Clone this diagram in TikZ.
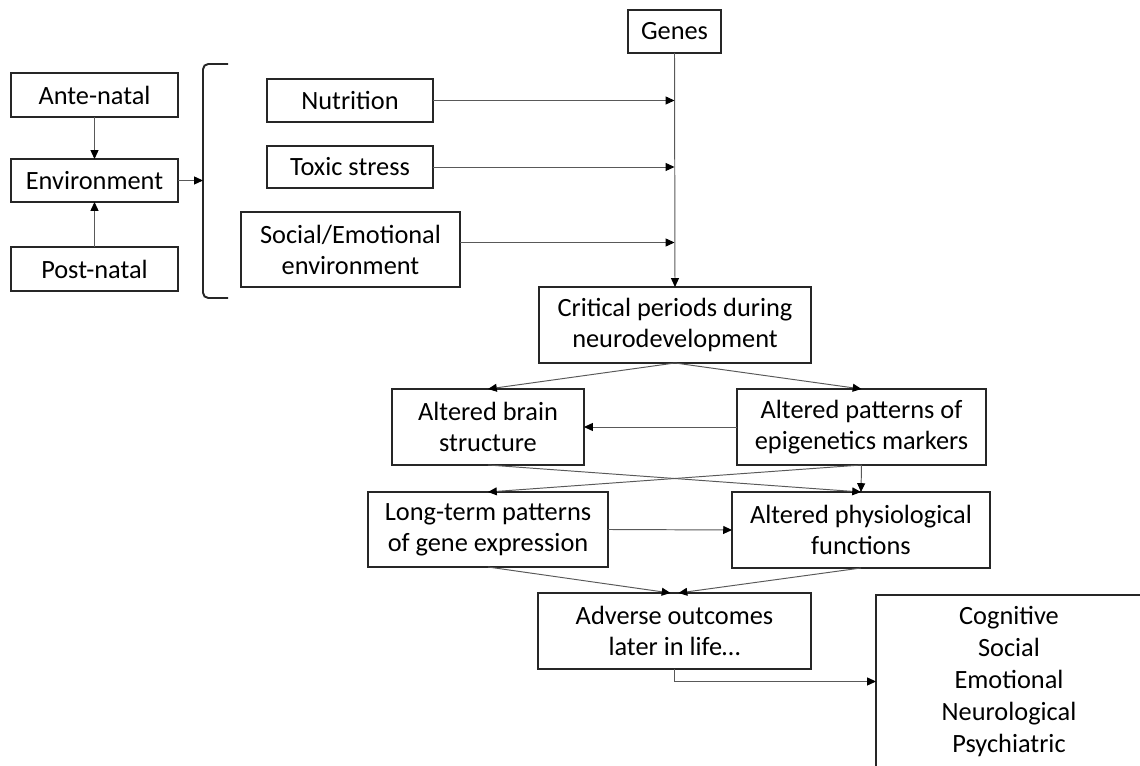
\documentclass[tikz,border=0pt]{standalone}
\usepackage{fontspec}
\setmainfont{Carlito}
\usetikzlibrary{arrows.meta}
\tikzset{
  box/.style={draw=black!85, line width=0.9pt, inner sep=0pt, outer sep=0pt,
    align=center, font=\fontsize{15}{17.6}\selectfont},
  arr/.style={draw=black!65, line width=0.55pt, -{Triangle[length=5pt,width=4.5pt,color=black]}}
}
\begin{document}
\begin{tikzpicture}[x=0.02cm, y=-0.02cm]
    \useasboundingbox (0,0) rectangle (1140,766);

    % Umwelt links
    \node[box, minimum width=3.34cm, minimum height=0.88cm] (ante) at (94.5,95) {Ante-natal};
    \node[box, minimum width=3.34cm, minimum height=0.86cm] (env) at (94.5,180.5) {Environment};
    \node[box, minimum width=3.34cm, minimum height=0.88cm] (post) at (94.5,269) {Post-natal};
    \draw[arr] (ante) -- (env);
    \draw[arr] (post) -- (env);

    % Klammer
    \draw[black!85, line width=1.1pt, rounded corners=3pt] (228,64) -- (203,64) -- (203,298) -- (228,298);
    \coordinate (brk) at (203,180.5);
    \draw[arr] (env.east) -- (brk);

    % Faktoren
    \node[box, minimum width=3.32cm, minimum height=0.86cm] (nutr) at (350,100.5) {Nutrition};
    \node[box, minimum width=3.32cm, minimum height=0.84cm] (toxic) at (350,167) {Toxic stress};
    \node[box, minimum width=4.38cm, minimum height=1.5cm] (social) at (350.5,249.5) {Social/Emotional\\environment};

    % Gene
    \node[box, minimum width=1.86cm, minimum height=0.86cm] (genes) at (674.5,31.5) {Genes};
    \node[box, minimum width=5.44cm, minimum height=1.52cm] (crit) at (675,325) {Critical periods during\\neurodevelopment};
    \draw[arr] (genes.south) -- (crit.north);
    \draw[arr] (nutr.east) -- (nutr.east -| genes.south);
    \draw[arr] (toxic.east) -- (toxic.east -| genes.south);
    \draw[arr] ([yshift=0.14cm]social.east) -- ([yshift=0.14cm]social.east -| genes.south);

    % Folgen
    \node[box, minimum width=3.84cm, minimum height=1.52cm] (brain) at (488,427) {Altered brain\\structure};
    \node[box, minimum width=4.98cm, minimum height=1.52cm] (epi) at (861.5,427) {Altered patterns of\\epigenetics markers};
    \node[box, minimum width=4.8cm, minimum height=1.5cm] (longt) at (488,529.5) {Long-term patterns\\of gene expression};
    \node[box, minimum width=5.16cm, minimum height=1.52cm] (physio) at (861,530) {Altered physiological\\functions};
    \draw[arr] (crit.south) -- (brain.north);
    \draw[arr] (crit.south) -- (epi.north);
    \draw[arr] (epi.west) -- (brain.east);
    \draw[arr] (brain.south) -- (physio.north);
    \draw[arr] (epi.south) -- (longt.north);
    \draw[arr] (epi.south) -- (physio.north);
    \draw[arr] (longt.east) -- (physio.west);

    % Ergebnis
    \node[box, minimum width=5.32cm, minimum height=3.46cm, font=\fontsize{15}{18.3}\selectfont] (outc) at (1009,681.5)
        {Cognitive\\Social\\Emotional\\Neurological\\Psychiatric};
    \node[box, minimum width=5.46cm, minimum height=1.52cm] (adv) at (674.5,631) {Adverse outcomes\\later in life\dots};
    \draw[arr] (longt.south) -- ([xshift=-0.08cm]adv.north);
    \draw[arr] (physio.south) -- ([xshift=0.08cm]adv.north);
    \draw[arr] (adv.south) |- (outc.west);
\end{tikzpicture}
\end{document}
